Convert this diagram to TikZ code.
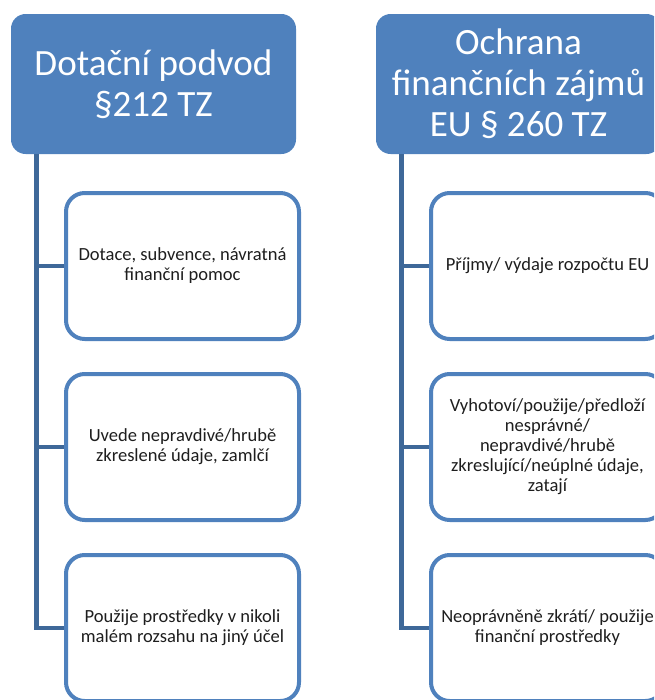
\documentclass[tikz,border=0pt]{standalone}
\usepackage{fontspec}
\setmainfont{Carlito}
\usepackage{xcolor}
\usepackage{tikz}
\usetikzlibrary{positioning,calc}
\definecolor{boxblue}{HTML}{4F81BD}
\definecolor{linkblue}{HTML}{3E6899}
\definecolor{textgray}{HTML}{1E1E1E}

\begin{document}
\begin{tikzpicture}[x=0.75pt, y=-0.75pt,
  header/.style={fill=boxblue, draw=none, rounded corners=11pt, text=white,
    minimum width=213.75pt, minimum height=105pt, align=center,
    font=\fontsize{27.8}{30.75}\selectfont},
  item/.style={fill=white, draw=boxblue, line width=3pt, rounded corners=14pt,
    minimum width=174.75pt, minimum height=109.5pt, align=center, text=textgray,
    font=\fontsize{13.9}{15}\selectfont},
  link/.style={draw=linkblue, line width=3.4pt}]
\useasboundingbox (0,0) rectangle (654,700);
\clip (0,0) rectangle (654,700);
% Headers
\node[header] (hd1) at (153.5,84) {Dotační podvod\\§212 TZ};
\node[header] (hd2) at (518.5,84) {Ochrana\\finančních zájmů\\EU § 260 TZ};
% Left column
\node[item] (dp1) at (182.5,266) {Dotace, subvence, návratná\\finanční pomoc};
\node[item] (dp2) at (182.5,447) {Uvede nepravdivé/hrubě\\zkreslené údaje, zamlčí};
\node[item] (dp3) at (182.5,628) {Použije prostředky v nikoli\\malém rozsahu na jiný účel};
% Right column
\node[item] (eu1) at (547.5,266) {Příjmy/ výdaje rozpočtu EU};
\node[item] (eu2) at (547.5,447) {Vyhotoví/použije/předloží\\nesprávné/\\nepravdivé/hrubě\\zkreslující/neúplné údaje,\\zatají};
\node[item] (eu3) at (547.5,628) {Neoprávněně zkrátí/ použije\\finanční prostředky};
% Connectors
\foreach \i in {1,2,3} {
  \draw[link] ([xshift=26*0.75pt]hd1.south west) |- (dp\i.west);
  \draw[link] ([xshift=26*0.75pt]hd2.south west) |- (eu\i.west);
}
\end{tikzpicture}
\end{document}
